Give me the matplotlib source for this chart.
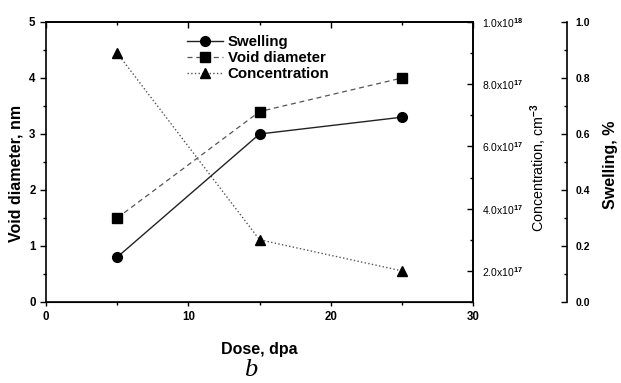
import matplotlib
matplotlib.use("Agg")
import matplotlib.pyplot as plt
from matplotlib.ticker import MultipleLocator, FixedLocator, FuncFormatter

dose = [5, 15, 25]
swelling = [0.16, 0.60, 0.66]
void_diameter = [1.5, 3.4, 4.0]
concentration = [9.0e17, 3.0e17, 2.0e17]

conc_ticks = [2e17, 4e17, 6e17, 8e17, 1e18]
conc_labels = [r"2.0x10$^{17}$", r"4.0x10$^{17}$", r"6.0x10$^{17}$",
               r"8.0x10$^{17}$", r"1.0x10$^{18}$"]

plt.rcParams['font.family'] = ['Liberation Sans', 'DejaVu Sans']
plt.rcParams['mathtext.fontset'] = 'custom'
plt.rcParams['mathtext.rm'] = 'Liberation Sans:bold'
plt.rcParams['mathtext.default'] = 'rm'

fig = plt.figure(figsize=(6.21, 3.83), dpi=100)
ax = fig.add_axes([0.074, 0.2115, 0.688, 0.7311])
ax2 = ax.twinx()
ax3 = ax.twinx()
ax3.spines['right'].set_position(('axes', 1.22))
ax2.spines['top'].set_visible(False)
ax2.spines['left'].set_visible(False)
ax3.spines['top'].set_visible(False)
ax3.spines['left'].set_visible(False)
ax3.spines['bottom'].set_visible(False)

l1, = ax3.plot(dose, swelling, '-', color='#222222', lw=1.0, marker='o', ms=7,
               mfc='black', mec='black', label='Swelling')
l2, = ax.plot(dose, void_diameter, '--', color='#555555', lw=0.9, marker='s', ms=6.5,
              mfc='black', mec='black', dashes=(4, 3), label='Void diameter')
l3, = ax2.plot(dose, concentration, ':', color='#555555', lw=1.0, marker='^', ms=7.5,
               mfc='black', mec='black', label='Concentration')

ax.set_xlim(0, 30)
ax.set_ylim(0, 5)
ax.xaxis.set_major_locator(MultipleLocator(10))
ax.xaxis.set_minor_locator(MultipleLocator(5))
ax.yaxis.set_major_locator(MultipleLocator(1))
ax.yaxis.set_minor_locator(MultipleLocator(0.5))
ax.tick_params(axis='both', which='both', labelsize=8.3, width=1)
ax.tick_params(axis='x', which='major', length=3, direction='out')
ax.tick_params(axis='x', which='minor', length=2, direction='out')
ax.tick_params(axis='y', which='major', length=4)
ax.tick_params(axis='y', which='minor', length=2.5)
for lab in ax.get_xticklabels() + ax.get_yticklabels():
    lab.set_fontweight('bold')
for s in ax.spines.values():
    s.set_linewidth(1.2)

top = ax.secondary_xaxis('top')
top.xaxis.set_major_locator(MultipleLocator(10))
top.xaxis.set_minor_locator(MultipleLocator(5))
top.tick_params(axis='x', which='major', direction='in', length=4, width=1, labeltop=False)
top.tick_params(axis='x', which='minor', direction='in', length=2.5, width=1)
top.spines['top'].set_linewidth(1.2)

ax2.set_ylim(1e17, 1e18)
ax2.yaxis.set_major_locator(FixedLocator(conc_ticks))
ax2.yaxis.set_minor_locator(MultipleLocator(1e17))
ax2.yaxis.set_major_formatter(FuncFormatter(lambda v, p: conc_labels[conc_ticks.index(v)] if v in conc_ticks else ''))
ax2.yaxis.get_offset_text().set_visible(False)
ax2.tick_params(axis='y', which='major', direction='in', length=4, labelsize=7.5, width=1, pad=6)
ax2.tick_params(axis='y', which='minor', direction='in', length=2.5, width=1)
ax2.spines['right'].set_linewidth(1.2)
ax2.set_ylabel(r"Concentration, cm$^{-3}$", fontsize=10.3)
ax2.yaxis.set_label_coords(1.129, 0.48)

ax3.set_ylim(0, 1.0)
ax3.yaxis.set_major_locator(MultipleLocator(0.2))
ax3.yaxis.set_minor_locator(MultipleLocator(0.1))
ax3.yaxis.set_major_formatter(FuncFormatter(lambda v, p: f"{v:.1f}"))
ax3.tick_params(axis='y', which='major', direction='in', length=4, labelsize=7.5, width=1, pad=6)
ax3.tick_params(axis='y', which='minor', direction='in', length=2.5, width=1)
ax3.spines['right'].set_linewidth(1.2)
for lab in ax3.get_yticklabels():
    lab.set_fontweight('bold')
ax3.set_ylabel("Swelling, %", fontsize=11.5, fontweight='bold')
ax3.yaxis.set_label_coords(1.303, 0.49)

ax.set_ylabel("Void diameter, nm", fontsize=11.5, fontweight='bold')
ax.yaxis.set_label_coords(-0.052, 0.46)
ax.set_xlabel("Dose, dpa", fontsize=11.5, fontweight='bold', labelpad=14)

leg = ax.legend(handles=[l1, l2, l3], loc='upper left', bbox_to_anchor=(0.315, 0.975),
                frameon=False, fontsize=10.8, handlelength=2.4, handletextpad=0.35,
                labelspacing=0.15, borderaxespad=0)
for t in leg.get_texts():
    t.set_fontweight('bold')

fig.text(0.403, 0.035, "b", fontsize=19, style='italic', family='Liberation Serif',
         ha='center', va='center')

fig.savefig("out.png", dpi=100)
